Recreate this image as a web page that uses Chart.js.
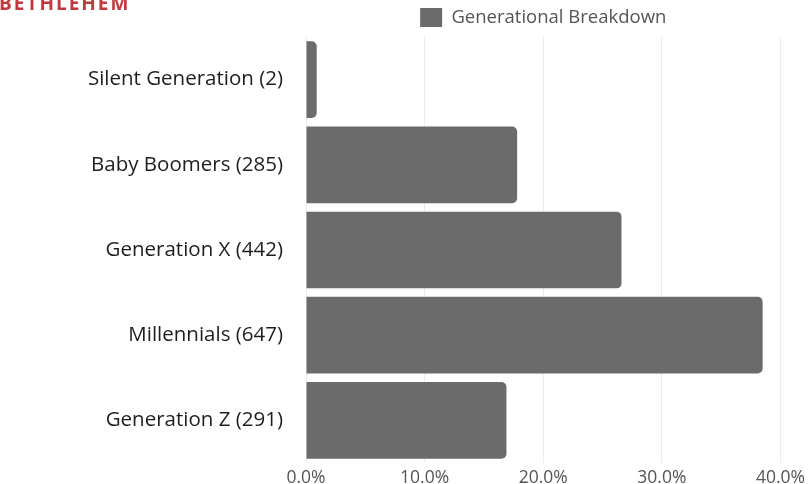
<!DOCTYPE html>
<html>
<head>
<meta charset="utf-8">
<script src="https://cdn.jsdelivr.net/npm/chart.js@4"></script>
<style>
  html, body { margin: 0; padding: 0; background: #ffffff; }
  #wrap { position: relative; width: 810px; height: 484px; overflow: hidden; }
  #brand { position: absolute; left: -1px; top: -6px; font-family: "Open Sans", sans-serif; font-weight: 700; font-size: 19px; line-height: 19px; letter-spacing: 2px; color: #c0393f; }
  canvas { position: absolute; left: 0; top: 0; }
</style>
</head>
<body>
<div id="wrap">
  <canvas id="c" width="810" height="484"></canvas>
  <div id="brand">BETHLEHEM</div>
</div>
<script>
const categories = ["Silent Generation (2)", "Baby Boomers (285)", "Generation X (442)", "Millennials (647)", "Generation Z (291)"];
const seriesLabel = "Generational Breakdown";
const seriesValues = [0.9, 17.8, 26.6, 38.5, 16.9];
const xTicks = [0, 10, 20, 30, 40];

new Chart(document.getElementById('c'), {
  type: 'bar',
  data: {
    labels: categories,
    datasets: [{
      label: seriesLabel,
      data: seriesValues,
      backgroundColor: '#6b6b6b',
      borderWidth: 0,
      borderRadius: 5,
      borderSkipped: 'start',
      categoryPercentage: 0.9,
      barPercentage: 1.0
    }]
  },
  options: {
    indexAxis: 'y',
    responsive: false,
    animation: false,
    layout: { padding: { top: 0, right: 28, left: 0, bottom: 0 } },
    plugins: {
      legend: {
        display: true,
        position: 'top',
        fullSize: false,
        labels: {
          boxWidth: 22,
          boxHeight: 19,
          padding: 8,
          color: '#555555',
          font: { family: 'Open Sans', size: 18.5 }
        }
      },
      tooltip: { enabled: false }
    },
    scales: {
      x: {
        min: xTicks[0],
        max: xTicks[xTicks.length - 1],
        afterBuildTicks: (axis) => { axis.ticks = xTicks.map(v => ({ value: v })); },
        afterFit: (axis) => { axis.height = 21; },
        grid: { color: '#ececec', drawTicks: false },
        border: { display: false },
        ticks: {
          padding: 5,
          color: '#555555',
          font: { family: 'Open Sans', size: 17.5 },
          callback: (v) => Number(v).toFixed(1) + '%'
        }
      },
      y: {
        grid: { display: false, drawTicks: false },
        border: { display: false },
        afterFit: (axis) => { axis.width = 306; axis.paddingTop = 0; axis.paddingBottom = 0; },
        ticks: {
          padding: 23,
          color: '#1e1e1e',
          font: { family: 'Open Sans', size: 20.5 }
        }
      }
    }
  }
});
</script>
</body>
</html>
